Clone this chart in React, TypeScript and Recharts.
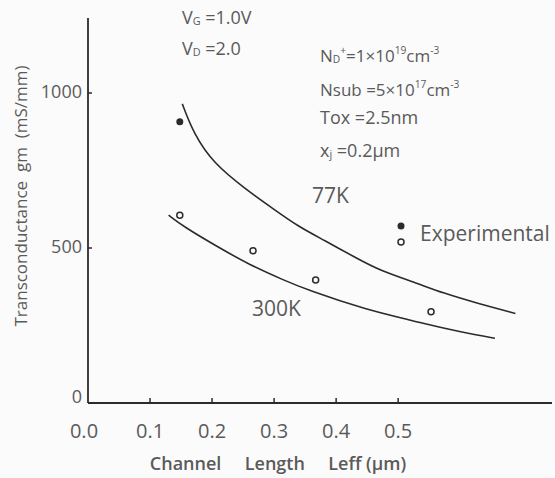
import React from 'react';
import { ComposedChart, Line, Scatter, XAxis, YAxis } from 'recharts';

// gm vs channel length
const curve77X = [0.152, 0.17, 0.202, 0.256, 0.294, 0.339, 0.38, 0.433, 0.471, 0.527, 0.573, 0.627, 0.689];
const curve77Y = [965, 870, 773, 687, 633, 569, 526, 467, 427, 389, 354, 322, 289];

const curve300X = [0.13, 0.154, 0.208, 0.261, 0.315, 0.353, 0.45, 0.519, 0.573, 0.627, 0.656];
const curve300Y = [606, 569, 505, 445, 397, 365, 300, 268, 241, 219, 209];

const filledX = [0.148];
const filledY = [907];

const openX = [0.148, 0.266, 0.367, 0.553];
const openY = [606, 491, 397, 294];

const xTicks = [0, 0.1, 0.2, 0.3, 0.4, 0.5];
const yTicks = [0, 500, 1000];

const zip = (xs: number[], ys: number[]) => xs.map((x, i) => ({ x, y: ys[i] }));

const curve77 = zip(curve77X, curve77Y);
const curve300 = zip(curve300X, curve300Y);
const filled = zip(filledX, filledY);
const open = zip(openX, openY);

const ink = '#2b2b2b';
const textGray = '#5a5a5a';
const font = '"Open Sans", sans-serif';

const XTick = (props: any) => {
  const { x, y, payload } = props;
  return (
    <g>
      {payload.value !== 0 && <line x1={x} x2={x} y1={y} y2={y - 5} stroke={ink} strokeWidth={1.5} />}
      <text x={payload.value === 0 ? x - 4 : x} y={y + 27} textAnchor="middle" dominantBaseline="central"
        fontSize={20} fill={textGray} fontFamily={font}>
        {payload.value.toFixed(1)}
      </text>
    </g>
  );
};

const YTick = (props: any) => {
  const { x, y, payload } = props;
  return (
    <g>
      {payload.value !== 0 && <line x1={x} x2={x + 4} y1={y} y2={y} stroke={ink} strokeWidth={1.5} />}
      <text x={x - 6} y={payload.value === 0 ? y - 7 : y - 2} textAnchor="end" dominantBaseline="central"
        fontSize={18} fill={textGray} fontFamily={font}>
        {payload.value}
      </text>
    </g>
  );
};

const OpenDot = (props: any) => (
  <circle cx={props.cx} cy={props.cy} r={3} fill="none" stroke={ink} strokeWidth={1.5} />
);
const FilledDot = (props: any) => (
  <circle cx={props.cx} cy={props.cy} r={3.5} fill={ink} />
);

const note = (top: number, left: number, size: number, children: React.ReactNode) => (
  <div style={{ position: 'absolute', top: top - 12, left, height: 24, lineHeight: '24px', fontSize: size,
    color: textGray, fontFamily: font, whiteSpace: 'pre' }}>
    {children}
  </div>
);

const sup = (s: string) => <sup style={{ fontSize: '0.6em', verticalAlign: '0.75em' }}>{s}</sup>;
const sub = (s: string) => <sub style={{ fontSize: '0.6em', verticalAlign: '-0.1em' }}>{s}</sub>;

const App = () => {
  return (
    <div style={{ position: 'absolute', left: 0, top: 0, width: 555, height: 478, background: '#fbfbfb' }}>
      <ComposedChart width={555} height={478} margin={{ top: 18, right: 3, bottom: 0, left: 0 }}>
        <XAxis type="number" dataKey="x" domain={[0, 0.748]} ticks={xTicks} height={75}
          axisLine={{ stroke: ink, strokeWidth: 1.8 }} tickLine={false} tickSize={0} tickMargin={0}
          tick={<XTick />} allowDataOverflow />
        <YAxis type="number" domain={[0, 1242]} ticks={yTicks} width={88}
          axisLine={{ stroke: ink, strokeWidth: 1.8 }} tickLine={false} tickSize={0} tickMargin={0}
          tick={<YTick />} allowDataOverflow />
        <Line data={curve77} dataKey="y" type="basis" stroke={ink} strokeWidth={1.6} dot={false}
          isAnimationActive={false} />
        <Line data={curve300} dataKey="y" type="basis" stroke={ink} strokeWidth={1.6} dot={false}
          isAnimationActive={false} />
        <Scatter data={filled} dataKey="y" shape={<FilledDot />} isAnimationActive={false} />
        <Scatter data={open} dataKey="y" shape={<OpenDot />} isAnimationActive={false} />
      </ComposedChart>

      {/* legend */}
      <svg style={{ position: 'absolute', left: 395, top: 218 }} width={160} height={34}>
        <circle cx={6} cy={8} r={3.5} fill={ink} />
        <circle cx={6} cy={24} r={3} fill="none" stroke={ink} strokeWidth={1.5} />
        <text x={25} y={15} dominantBaseline="central" fontSize={21} fill={textGray} fontFamily={font}>
          Experimental
        </text>
      </svg>

      {note(17, 182, 18, <>V{sub('G')} =1.0V</>)}
      {note(48, 182, 18, <>V{sub('D')} =2.0</>)}
      {note(50, 320, 17, <>N{sub('D')}{sup('+')}=1×10{sup('19')}cm{sup('-3')}</>)}
      {note(84, 320, 17, <>Nsub =5×10{sup('17')}cm{sup('-3')}</>)}
      {note(117, 320, 18, <>Tox =2.5nm</>)}
      {note(150, 320, 18, <>x{sub('j')} =0.2μm</>)}
      {note(195, 312, 21, <>77K</>)}
      {note(308, 252, 21, <>300K</>)}

      <div style={{ position: 'absolute', left: 278, top: 463, transform: 'translate(-50%, -50%)',
        fontSize: 18, fontWeight: 600, color: textGray, fontFamily: font, whiteSpace: 'pre' }}>
        Channel     Length     Leff (μm)
      </div>
      <div style={{ position: 'absolute', left: 20, top: 196, transform: 'translate(-50%, -50%) rotate(-90deg)',
        fontSize: 17, color: textGray, fontFamily: font, whiteSpace: 'pre' }}>
        Transconductance  gm  (mS/mm)
      </div>
    </div>
  );
};

export default App;
